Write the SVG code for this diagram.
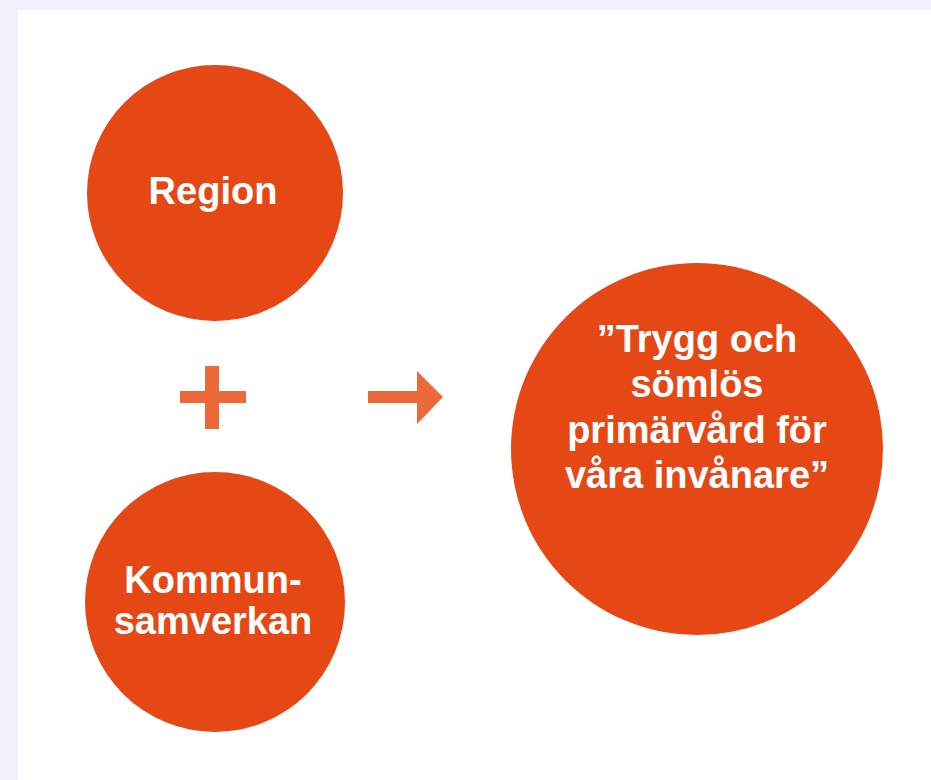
<svg xmlns="http://www.w3.org/2000/svg" width="931" height="780" viewBox="0 0 931 780">
<style>
.node{fill:#e64815}
.lbl{fill:#ffffff;font-family:"Liberation Sans",Arial,sans-serif;font-weight:bold;font-size:38px;text-anchor:middle}
.sym{fill:#ec6a3a}
</style>
<rect x="0" y="0" width="931" height="780" fill="#f3f0fd"/>
<rect x="18" y="10" width="913" height="770" fill="#ffffff"/>
<g id="region">
<circle class="node" cx="215" cy="193" r="128"/>
<text class="lbl" x="213" y="204">Region</text>
</g>
<g id="kommunsamverkan">
<circle class="node" cx="215" cy="602" r="130"/>
<text class="lbl" x="213" y="593">Kommun-</text>
<text class="lbl" x="213" y="634">samverkan</text>
</g>
<g id="trygg">
<circle class="node" cx="697" cy="449" r="186"/>
<text class="lbl" x="697" y="352">”Trygg och</text>
<text class="lbl" x="697" y="397">sömlös</text>
<text class="lbl" x="697" y="443">primärvård för</text>
<text class="lbl" x="697" y="488">våra invånare”</text>
</g>
<g id="connectors">
<g id="plus">
<rect class="sym" x="180" y="391" width="66" height="12"/>
<rect class="sym" x="205" y="366" width="14" height="63"/>
</g>
<g id="arrow">
<rect class="sym" x="368" y="391" width="50" height="12"/>
<polygon class="sym" points="417,371 443,397 417,424"/>
</g>
</g>
</svg>
